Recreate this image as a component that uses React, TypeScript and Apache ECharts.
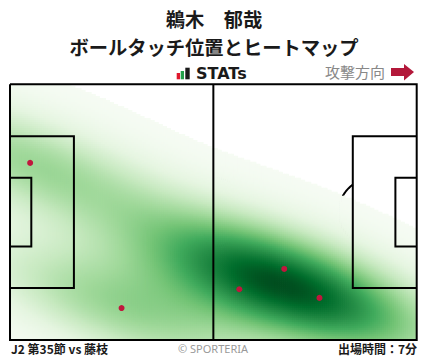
import React, { useEffect, useRef } from 'react';
import * as echarts from 'echarts';

// ---- texts ----
const playerName = '鵜木　郁哉';
const chartTitle = 'ボールタッチ位置とヒートマップ';
const matchLabel = 'J2 第35節 vs 藤枝';
const minutesLabel = '出場時間：7分';
const creditLabel = '© SPORTERIA';
const directionLabel = '攻撃方向';
const brandLabel = 'STATs';

// ---- data: ball touches in pitch metres (x from own goal line, y from top touchline) ----
const touchX = [5.2, 28.8, 59.2, 70.8, 79.9];
const touchY = [20.9, 59.5, 54.5, 49.1, 56.8];

const PITCH_L = 105;
const PITCH_W = 68;
const greens = ['#f7fcf5', '#e5f5e0', '#c7e9c0', '#a1d99b', '#74c476', '#41ab5d', '#238b45', '#006d2c', '#00441b'];

const NX = 200;
const NY = 128;
const THRESH = 0.0085;

// Gaussian KDE (Scott bandwidth, full covariance) of the touches
function buildDensity() {
  const n = touchX.length;
  const mx = touchX.reduce((a, b) => a + b, 0) / n;
  const my = touchY.reduce((a, b) => a + b, 0) / n;
  let sxx = 0, syy = 0, sxy = 0;
  for (let k = 0; k < n; k++) {
    const dx = touchX[k] - mx, dy = touchY[k] - my;
    sxx += dx * dx; syy += dy * dy; sxy += dx * dy;
  }
  sxx /= n - 1; syy /= n - 1; sxy /= n - 1;
  const f2 = Math.pow(n, -2 / 6);
  const a = sxx * f2, b = sxy * f2, c = syy * f2;
  const det = a * c - b * b;
  const ia = c / det, ib = -b / det, ic = a / det;
  const cw = PITCH_L / NX, ch = PITCH_W / NY;
  const raw: number[][] = [];
  let peak = 0;
  for (let i = 0; i < NX; i++) {
    for (let j = 0; j < NY; j++) {
      const x = (i + 0.5) * cw, y = (j + 0.5) * ch;
      let s = 0;
      for (let k = 0; k < n; k++) {
        const ux = x - touchX[k], uy = y - touchY[k];
        s += Math.exp(-0.5 * (ia * ux * ux + 2 * ib * ux * uy + ic * uy * uy));
      }
      if (s > peak) peak = s;
      raw.push([x, y, s]);
    }
  }
  return raw
    .map((r) => [r[0], r[1], r[2] / peak])
    .filter((r) => r[2] >= THRESH);
}

function arcPoints(cx: number, cy: number, r: number, a0: number, a1: number, steps = 48) {
  const pts: number[][] = [];
  for (let s = 0; s <= steps; s++) {
    const a = a0 + ((a1 - a0) * s) / steps;
    pts.push([cx + r * Math.cos(a), cy + r * Math.sin(a)]);
  }
  return pts;
}

const boxTop = PITCH_W / 2 - 20.16;
const boxBot = PITCH_W / 2 + 20.16;
const gaTop = PITCH_W / 2 - 9.16;
const gaBot = PITCH_W / 2 + 9.16;

const pitchLines: number[][][] = [
  [[0, 0], [PITCH_L, 0], [PITCH_L, PITCH_W], [0, PITCH_W], [0, 0]],
  [[PITCH_L / 2, 0], [PITCH_L / 2, PITCH_W]],
  [[0, boxTop], [16.5, boxTop], [16.5, boxBot], [0, boxBot]],
  [[0, gaTop], [5.5, gaTop], [5.5, gaBot], [0, gaBot]],
  [[PITCH_L, boxTop], [PITCH_L - 16.5, boxTop], [PITCH_L - 16.5, boxBot], [PITCH_L, boxBot]],
  [[PITCH_L, gaTop], [PITCH_L - 5.5, gaTop], [PITCH_L - 5.5, gaBot], [PITCH_L, gaBot]],
];
const arcAng = Math.acos(5.5 / 9.15);
const hiddenArcs: number[][][] = [
  arcPoints(11, PITCH_W / 2, 9.15, -arcAng, arcAng),
  arcPoints(PITCH_L - 11, PITCH_W / 2, 9.15, Math.PI - arcAng, Math.PI + arcAng),
  arcPoints(PITCH_L / 2, PITCH_W / 2, 9.15, 0, Math.PI * 2, 96),
];

function linesRender(lines: number[][][], width: number) {
  return (_params: any, api: any) => ({
    type: 'group',
    children: lines.map((pl) => ({
      type: 'polyline',
      shape: { points: pl.map((p) => api.coord(p)) },
      style: { stroke: '#000', lineWidth: width, fill: 'none', lineJoin: 'miter' },
    })),
  });
}

export default function App() {
  const ref = useRef<HTMLDivElement>(null);
  useEffect(() => {
    if (!ref.current) return;
    const chart = echarts.init(ref.current, undefined, { renderer: 'svg' });
    const density = buildDensity();
    const cw = PITCH_L / NX, ch = PITCH_W / NY;
    const font = '"Noto Sans CJK JP", "Noto Sans", sans-serif';
    chart.setOption({
      animation: false,
      backgroundColor: '#fff',
      grid: { left: 10, top: 84.3, width: 406.7, height: 255.7, show: false },
      xAxis: { type: 'value', min: 0, max: PITCH_L, show: false },
      yAxis: { type: 'value', min: 0, max: PITCH_W, inverse: true, show: false },
      visualMap: {
        type: 'continuous',
        show: false,
        seriesIndex: 1,
        dimension: 2,
        min: 0,
        max: 1 / 0.97,
        inRange: { color: greens },
      },
      series: [
        {
          type: 'custom',
          z: 1,
          silent: true,
          data: [[0, 0]],
          renderItem: linesRender(hiddenArcs, 2),
        },
        {
          type: 'custom',
          z: 2,
          silent: true,
          clip: true,
          progressive: 0,
          progressiveThreshold: 1000000,
          data: density,
          encode: { x: 0, y: 1 },
          renderItem: (_p: any, api: any) => {
            const x = api.value(0), y = api.value(1);
            const p1 = api.coord([x - cw / 2, y - ch / 2]);
            const p2 = api.coord([x + cw / 2, y + ch / 2]);
            return {
              type: 'rect',
              shape: {
                x: Math.min(p1[0], p2[0]) - 0.35,
                y: Math.min(p1[1], p2[1]) - 0.35,
                width: Math.abs(p2[0] - p1[0]) + 0.7,
                height: Math.abs(p2[1] - p1[1]) + 0.7,
              },
              style: { fill: api.visual('color') },
            };
          },
        },
        {
          type: 'custom',
          z: 3,
          silent: true,
          data: [[0, 0]],
          renderItem: linesRender(pitchLines, 2),
        },
        {
          type: 'scatter',
          z: 4,
          symbolSize: 6,
          itemStyle: { color: '#c0163d', opacity: 1 },
          data: touchX.map((x, i) => [x, touchY[i]]),
        },
      ],
      graphic: [
        { type: 'text', x: 214, y: 19, style: { text: playerName, font: `bold 19.3px ${font}`, fill: '#1a1a1a', align: 'center', verticalAlign: 'middle' } },
        { type: 'text', x: 214, y: 47, style: { text: chartTitle, font: `bold 19.3px ${font}`, fill: '#1a1a1a', align: 'center', verticalAlign: 'middle' } },
        { type: 'rect', shape: { x: 176.7, y: 73, width: 3.3, height: 6.3 }, style: { fill: '#e0182d' } },
        { type: 'rect', shape: { x: 180.7, y: 71, width: 3.3, height: 8.3 }, style: { fill: '#22a04a' } },
        { type: 'rect', shape: { x: 185.3, y: 67.7, width: 4.4, height: 11.6 }, style: { fill: '#1a1a1a' } },
        { type: 'text', x: 196, y: 73.5, style: { text: brandLabel, font: 'bold 16px "DejaVu Sans"', fill: '#1a1a1a', verticalAlign: 'middle' } },
        { type: 'text', x: 385, y: 71, style: { text: directionLabel, font: `15px ${font}`, fill: '#888', align: 'right', verticalAlign: 'middle' } },
        {
          type: 'polygon',
          shape: { points: [[391, 68], [404, 68], [404, 64], [414, 72], [404, 80.5], [404, 76], [391, 76]] },
          style: { fill: '#b3183a' },
        },
        { type: 'text', x: 11, y: 348.5, style: { text: matchLabel, font: `bold 12px ${font}`, fill: '#1a1a1a', verticalAlign: 'middle' } },
        { type: 'text', x: 213, y: 348, style: { text: creditLabel, font: `11px "Noto Sans", sans-serif`, fill: '#999', align: 'center', verticalAlign: 'middle' } },
        { type: 'text', x: 417, y: 348.5, style: { text: minutesLabel, font: `bold 12px ${font}`, fill: '#1a1a1a', align: 'right', verticalAlign: 'middle' } },
      ],
    });
    return () => chart.dispose();
  }, []);
  return (
    <div
      ref={ref}
      style={{ position: 'fixed', left: 0, top: 0, width: 428, height: 359, background: '#fff' }}
    />
  );
}
